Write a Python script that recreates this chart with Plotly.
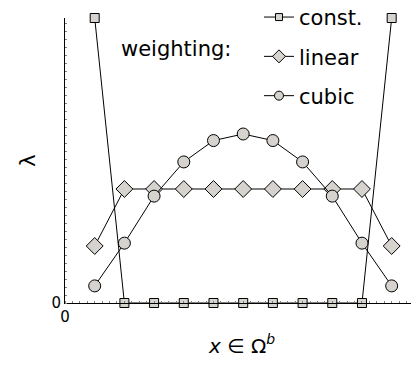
import plotly.graph_objects as go

# sample positions in the boundary region
x_pos = [1, 2, 3, 4, 5, 6, 7, 8, 9, 10, 11]

lam_const = [1.0, 0, 0, 0, 0, 0, 0, 0, 0, 0, 1.0]
lam_linear = [0.2, 0.4, 0.4, 0.4, 0.4, 0.4, 0.4, 0.4, 0.4, 0.4, 0.2]
lam_cubic = [0.06, 0.21, 0.375, 0.495, 0.57, 0.593, 0.57, 0.495, 0.375, 0.21, 0.06]

series_names = ['const.', 'linear', 'cubic']

marker_fill = 'rgb(214,211,206)'
font_family = 'DejaVu Sans'

series = [
    (series_names[0], lam_const, 'square', 9, 7),
    (series_names[1], lam_linear, 'diamond', 13, 10),
    (series_names[2], lam_cubic, 'circle', 12, 9),
]

fig = go.Figure()

for i, (name, vals, symbol, size, legend_size) in enumerate(series):
    fig.add_trace(go.Scatter(
        x=x_pos, y=vals, mode='lines+markers', name=name,
        line=dict(color='black', width=1),
        marker=dict(symbol=symbol, size=size, color=marker_fill,
                    line=dict(color='black', width=1)),
        cliponaxis=False, showlegend=False,
    ))
    # legend-only copy with smaller markers
    fig.add_trace(go.Scatter(
        x=[None], y=[None], mode='lines+markers', name=name,
        legendgroup=str(i),
        line=dict(color='black', width=1),
        marker=dict(symbol=symbol, size=legend_size, color=marker_fill,
                    line=dict(color='black', width=1)),
    ))

fig.add_annotation(
    text='weighting:', xref='paper', yref='paper', x=0.475, y=0.89,
    xanchor='right', yanchor='middle', showarrow=False,
    font=dict(size=21, color='black', family=font_family),
)

fig.update_xaxes(
    range=[0, 11.92], showline=True, linecolor='black', linewidth=1,
    showgrid=False, zeroline=False, tickvals=[0], ticktext=['0'],
    ticks='', ticklen=0,
    minor=dict(ticks='inside', ticklen=2, dtick=0.25, tickcolor='gray', tick0=0),
    title=dict(text='<i>x</i> ∈ Ω<sup><i>b</i></sup>', font=dict(size=20), standoff=13),
    tickfont=dict(size=15),
)
fig.update_yaxes(
    range=[0, 1.0], showline=True, linecolor='black', linewidth=1,
    showgrid=False, zeroline=False, tickvals=[0], ticktext=['0'],
    ticks='', ticklen=0,
    minor=dict(ticks='inside', ticklen=2, dtick=0.028, tickcolor='gray', tick0=0),
    title=dict(text='λ', font=dict(size=21), standoff=10),
    tickfont=dict(size=15),
)

# page body adds 8px, so the figure is 8px smaller than the window
fig.update_layout(
    width=411, height=357,
    margin=dict(l=57, r=0, t=10, b=62, autoexpand=False),
    plot_bgcolor='white', paper_bgcolor='white',
    font=dict(family=font_family, color='black'),
    showlegend=True,
    legend=dict(
        x=0.548, y=1.074, xanchor='left', yanchor='top',
        bgcolor='rgba(0,0,0,0)', font=dict(size=21),
        tracegroupgap=9, itemwidth=30,
    ),
)

fig.write_html("out.html")
